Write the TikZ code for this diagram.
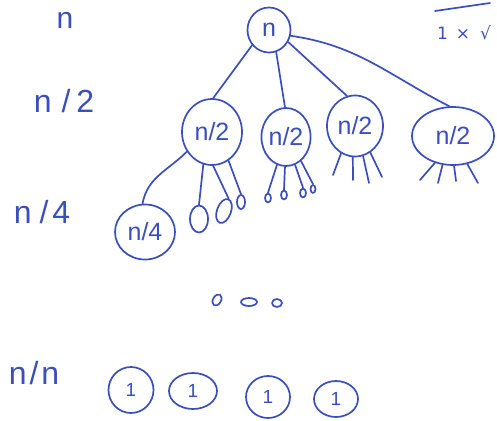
\documentclass[tikz,border=0pt]{standalone}
\usepackage{fontspec}
\setmainfont{Liberation Sans}
\newfontfamily\symfont{DejaVu Sans}
\usetikzlibrary{shapes.geometric}
\definecolor{ink}{RGB}{58,78,190}
\begin{document}
\begin{tikzpicture}[x=1pt,y=-1pt,
  inkline/.style={draw=ink,line width=1.7pt,line cap=round,line join=round},
  blob/.style={ellipse,inkline,inner sep=0pt,text=ink},
  sz/.style 2 args={minimum width=#1pt,minimum height=#2pt},
  lbl/.style={text=ink,inner sep=0pt},
  big/.style={font=\fontsize{32}{32}\selectfont},
  inner/.style={font=\fontsize{25}{25}\selectfont},
  one/.style={font=\fontsize{19}{19}\selectfont}]
\useasboundingbox (0,0) rectangle (497,420);

% left level labels
\node[lbl,font=\fontsize{30}{30}\selectfont] (Ln)  at (65,20)  {n};
\node[lbl,big] (Ln2) at (64,101) {n\hspace{10pt}/\hspace{6pt}2};
\node[lbl,big] (Ln4) at (42,212) {n\hspace{8pt}/\hspace{4pt}4};
\node[lbl,big] (Lnn) at (34,373) {n\hspace{3pt}/\hspace{3pt}n};

% top right fragment
\coordinate (tl) at (435,11);
\coordinate (tr) at (490,3);
\draw[inkline] (tl) -- (tr);
\node[lbl,font=\symfont\fontsize{17}{17}\selectfont] (tt) at (464,33) {1\hspace{8pt}×\hspace{10pt}√};

% root
\node[blob,sz={43}{45},inner] (root) at (269,30) {n};

% level 2
\node[blob,sz={60}{66},inner] (c1) at (212,132) {n/2};
\node[blob,sz={46}{58},inner] (c2) at (286,137) {n/2};
\node[blob,sz={56}{61},inner] (c3) at (355,126) {n/2};
\node[blob,sz={82}{58},inner] (c4) at (453,136) {n/2};

\draw[inkline] (root.222) -- (c1.88);
\draw[inkline] (root.288) -- (c2.92);
\draw[inkline] (root.328) -- (c3.105);
\draw[inkline] (root.345) to[out=-8,in=153] (c4.97);

% level 4
\node[blob,sz={60}{55},inner] (q) at (145,232) {n/4};
\draw[inkline] (c1.218) to[out=225,in=80] (q.95);

% legs under c1 with ovals
\node[blob,sz={18}{27}] (o1) at (199,219) {};
\node[blob,sz={14}{25},rotate=-20] (o2) at (224,211) {};
\node[blob,sz={8}{14}] (o3) at (241,202) {};
\draw[inkline] (c1.255) -- (o1.north);
\draw[inkline] (c1.272) -- (o2.north);
\draw[inkline] (c1.300) -- (o3.north);

% legs under c2 with tiny ovals
\node[blob,sz={6}{9}] (p1) at (268,198) {};
\node[blob,sz={6}{9}] (p2) at (284,195) {};
\node[blob,sz={6}{9}] (p3) at (303,193) {};
\node[blob,sz={5}{8}] (p4) at (313,189) {};
\draw[inkline] (c2.252) -- (p1.north);
\draw[inkline] (c2.268) -- (p2.north);
\draw[inkline] (c2.288) -- (p3.north);
\draw[inkline] (c2.302) -- (p4.north);

% legs under c3
\coordinate (e31) at (333,175);
\coordinate (e32) at (353,180);
\coordinate (e33) at (369,183);
\coordinate (e34) at (382,177);
\draw[inkline] (c3.243) -- (e31);
\draw[inkline] (c3.266) -- (e32);
\draw[inkline] (c3.285) -- (e33);
\draw[inkline] (c3.300) -- (e34);

% legs under c4
\coordinate (e41) at (420,180);
\coordinate (e42) at (438,183);
\coordinate (e43) at (456,181);
\coordinate (e44) at (478,183);
\draw[inkline] (c4.236) -- (e41);
\draw[inkline] (c4.250) -- (e42);
\draw[inkline] (c4.272) -- (e43);
\draw[inkline] (c4.297) -- (e44);

% dots
\node[blob,sz={8}{12},rotate=-30] (d1) at (217,300) {};
\node[blob,sz={16}{8}] (d2) at (249,302) {};
\node[blob,sz={10}{8}] (d3) at (277,303) {};

% leaves
\node[blob,sz={45}{46},one] (b1) at (131,390) {1};
\node[blob,sz={48}{36},one] (b2) at (193,391) {1};
\node[blob,sz={44}{42},one] (b3) at (268,397) {1};
\node[blob,sz={44}{36},one] (b4) at (336,399) {1};
\end{tikzpicture}
\end{document}
